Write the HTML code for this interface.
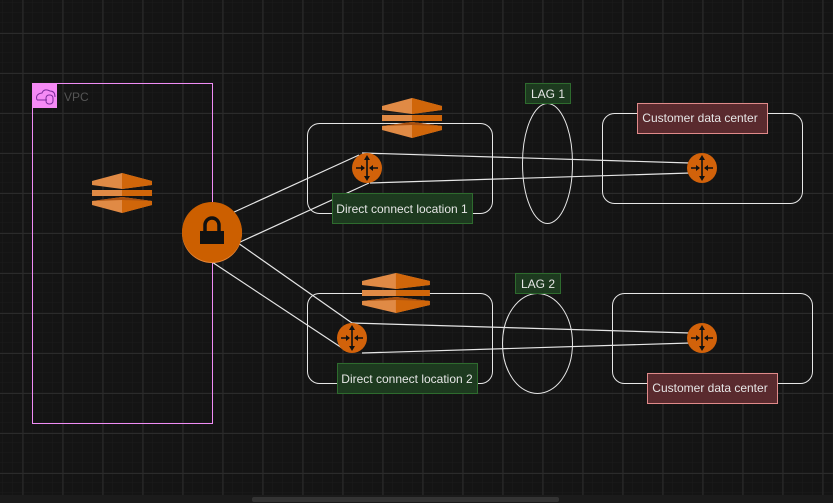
<!DOCTYPE html>
<html><head><style>
html,body{margin:0;padding:0;background:#1b1b1b;overflow:hidden}
svg{display:block}
text{font-family:"Liberation Sans",sans-serif}
</style></head><body>
<svg width="833" height="503" viewBox="0 0 833 503" xmlns="http://www.w3.org/2000/svg">
<defs>
<pattern id="minor" width="10" height="10" patternUnits="userSpaceOnUse" x="2.5" y="3">
<path d="M10 0V10M0 10H10" stroke="#1c1c1c" stroke-width="1" fill="none"/>
</pattern>
<pattern id="major" width="40" height="40" patternUnits="userSpaceOnUse" x="22.5" y="33">
<path d="M0.5 0V40M0 0.5H40" stroke="#2b2b2b" stroke-width="1" fill="none"/>
</pattern>
<g id="svc">
<polygon points="0,8 30,0 60,8 60,12 30,16 0,12" fill="#e08a45"/>
<polygon points="30,0 60,8 60,12 30,16" fill="#d0660a"/>
<rect x="0" y="17" width="60" height="6" fill="#e08a45"/>
<rect x="30" y="17" width="30" height="6" fill="#d0660a"/>
<polygon points="0,28 30,24 60,28 60,32 30,40 0,32" fill="#e08a45"/>
<polygon points="30,24 60,28 60,32 30,40" fill="#d0660a"/>
<polygon points="0,28 30,24 60,28 30,27" fill="#a85010"/>
</g>
<g id="rtr">
<circle r="15" fill="#d2620a"/>
<path d="M0-11V11M-11 0H-3M11 0H3" stroke="#111" stroke-width="1.6"/>
<polygon points="0,-13 -3,-8 3,-8" fill="#111"/>
<polygon points="0,13 -3,8 3,8" fill="#111"/>
<polygon points="-2,0 -6,-3 -6,3" fill="#111"/>
<polygon points="2,0 6,-3 6,3" fill="#111"/>
</g>
</defs>
<rect width="833" height="495" fill="#141414"/>
<rect width="833" height="495" fill="url(#minor)"/>
<rect width="833" height="495" fill="url(#major)"/>
<rect x="252" y="497" width="307" height="5" rx="2" fill="#333"/>

<!-- VPC -->
<rect x="32.5" y="83.5" width="180" height="340" fill="none" stroke="#f08cf5" stroke-width="1"/>
<rect x="32" y="83" width="25" height="25" fill="#f58af5"/>
<path d="M37 100 q-2-6 5-7 q2-5 8-2 q5 0 5 6 M37 100h10" stroke="#7a2a9a" stroke-width="1" fill="none"/>
<rect x="46" y="95" width="7" height="9" rx="3" fill="none" stroke="#7a2a9a" stroke-width="1"/>
<text x="64" y="101" font-size="12" fill="#555">VPC</text>
<use href="#svc" x="92" y="173"/>

<!-- boxes -->
<rect x="307.5" y="123.5" width="185" height="90" rx="12" fill="none" stroke="#e6e6e6"/>
<rect x="307.5" y="293.5" width="185" height="90" rx="12" fill="none" stroke="#e6e6e6"/>
<rect x="602.5" y="113.5" width="200" height="90" rx="12" fill="none" stroke="#e6e6e6"/>
<rect x="612.5" y="293.5" width="200" height="90" rx="12" fill="none" stroke="#e6e6e6"/>
<ellipse cx="547.5" cy="163.5" rx="25" ry="60" fill="none" stroke="#e6e6e6"/>
<ellipse cx="537.5" cy="343.5" rx="35" ry="50" fill="none" stroke="#e6e6e6"/>

<use href="#svc" x="382" y="98"/>
<g transform="translate(362,273) scale(1.13,1)"><use href="#svc"/></g>

<!-- lines -->
<g stroke="#e6e6e6" stroke-width="1.2" fill="none">
<path d="M232 213L359 155"/>
<path d="M238 243L369 183"/>
<path d="M238 243L352 323"/>
<path d="M212 262L342 348"/>
<path d="M362 153L690 163"/>
<path d="M370 183L690 173"/>
<path d="M352 323L690 333"/>
<path d="M362 353L690 343"/>
</g>

<!-- lock -->
<circle cx="212" cy="233" r="30" fill="#e8883a"/>
<circle cx="212" cy="232" r="30" fill="#cc5f00"/>
<path d="M205 232v-7a7 7 0 0 1 14 0v7" stroke="#111" stroke-width="3.5" fill="none"/>
<rect x="200" y="231" width="24" height="13" fill="#111"/>

<use href="#rtr" x="367" y="168"/>
<use href="#rtr" x="352" y="338"/>
<use href="#rtr" x="702" y="168"/>
<use href="#rtr" x="702" y="338"/>

<!-- labels -->
<rect x="332.5" y="193.5" width="140" height="30" fill="#1d3a1f" stroke="#2e6b2e"/>
<text x="402" y="213" font-size="12" fill="#e6e6e6" text-anchor="middle">Direct connect location 1</text>
<rect x="337.5" y="363.5" width="140" height="30" fill="#1d3a1f" stroke="#2e6b2e"/>
<text x="407" y="383" font-size="12" fill="#e6e6e6" text-anchor="middle">Direct connect location 2</text>
<rect x="525.5" y="83.5" width="45" height="20" fill="#1d3a1f" stroke="#2e6b2e"/>
<text x="548" y="98" font-size="12" fill="#e6e6e6" text-anchor="middle">LAG 1</text>
<rect x="515.5" y="273.5" width="45" height="20" fill="#1d3a1f" stroke="#2e6b2e"/>
<text x="538" y="288" font-size="12" fill="#e6e6e6" text-anchor="middle">LAG 2</text>
<rect x="637.5" y="103.5" width="130" height="30" fill="#5a2a2e" stroke="#e08a8a"/>
<text x="700" y="122" font-size="12" fill="#e6e6e6" text-anchor="middle">Customer data center</text>
<rect x="647.5" y="373.5" width="130" height="30" fill="#5a2a2e" stroke="#e08a8a"/>
<text x="710" y="392" font-size="12" fill="#e6e6e6" text-anchor="middle">Customer data center</text>
</svg>
</body></html>
